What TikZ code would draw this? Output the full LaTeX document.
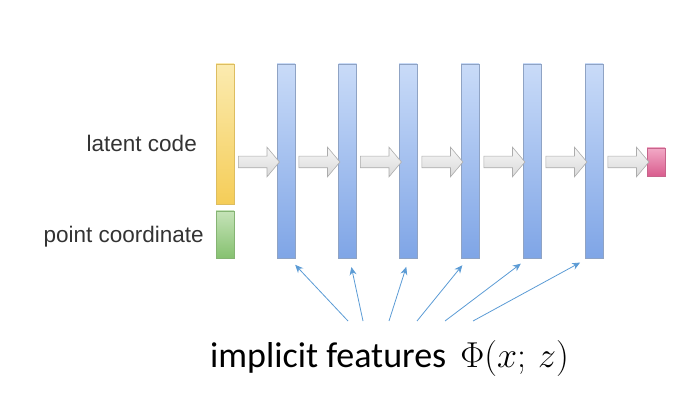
\RequirePackage{fix-cm}
\documentclass[tikz,border=0pt]{standalone}
\usepackage{amsmath}
\usepackage{fontspec}
\setmainfont{Carlito}
\newfontfamily\labelfont{Liberation Sans}
\usetikzlibrary{arrows.meta,positioning,shapes.arrows}

\definecolor{barTop}{HTML}{C9DBF8}
\definecolor{barBot}{HTML}{7FA5E6}
\definecolor{barLine}{HTML}{8FA3C4}
\definecolor{codeTop}{HTML}{FBEBB0}
\definecolor{codeBot}{HTML}{F5CD58}
\definecolor{ptTop}{HTML}{C5E3B8}
\definecolor{ptBot}{HTML}{86C170}
\definecolor{outTop}{HTML}{F2A9C6}
\definecolor{outBot}{HTML}{D95D8E}
\definecolor{featBlue}{HTML}{5B9BD5}

\begin{document}
\begin{tikzpicture}[
    x=1pt, y=-1pt,
    bar/.style={draw=barLine, line width=0.5pt, inner sep=0pt, minimum width=18pt, top color=barTop, bottom color=barBot},
    layer/.style={bar, minimum height=194pt},
    flow/.style={single arrow, draw=gray!65, line width=0.6pt, top color=gray!6, bottom color=gray!30,
                 inner xsep=0pt, inner ysep=5.5pt, minimum height=41pt, single arrow head extend=9pt,
                 single arrow tip angle=100},
    inlabel/.style={font=\labelfont\fontsize{22.5}{26}\selectfont, text=black!80, inner sep=0pt},
    feat/.style={-{Stealth[length=8pt,width=7pt]}, draw=featBlue, line width=0.8pt, shorten >=9pt}
  ]
    \useasboundingbox (0,0) rectangle (698,403);
    % inputs
    \node[bar, minimum height=140pt, top color=codeTop, bottom color=codeBot, draw=codeBot!80!gray] (code) at (225,134) {};
    \node[bar, minimum height=47pt, top color=ptTop, bottom color=ptBot, draw=ptBot!80!gray] (point) at (225,234.5) {};
    \node[inlabel, anchor=east] (codeLabel) at (197,143) {latent code};
    \node[inlabel, anchor=east] (pointLabel) at (204,237) {point coordinate};
    % hidden layers
    \node[layer] (h1) at (286,161) {};
    \node[layer] (h2) at (347.5,161) {};
    \node[layer] (h3) at (408,161) {};
    \node[layer] (h4) at (470,161) {};
    \node[layer] (h5) at (532,161) {};
    \node[layer] (h6) at (594,161) {};
    \node[bar, minimum height=28pt, top color=outTop, bottom color=outBot, draw=outBot!80!gray] (out) at (656,162) {};
    % block arrows
    \node[flow] (f0) at (256.5,162) {};
    \node[flow] (f1) at (317,162) {};
    \node[flow] (f2) at (378.5,162) {};
    \node[flow] (f3) at (440,162) {};
    \node[flow] (f4) at (502,162) {};
    \node[flow] (f5) at (564,162) {};
    \node[flow] (f6) at (626,162) {};
    % features
    \node[anchor=base west, inner sep=0pt, font=\fontsize{36}{42}\selectfont] (featLabel) at (210,367)
      {implicit features\hspace{6pt} $\Phi(x;\,z)$};
    \coordinate (s1) at (348,321);
    \coordinate (s2) at (363,321);
    \coordinate (s3) at (389,321);
    \coordinate (s4) at (417,321);
    \coordinate (s5) at (445,321);
    \coordinate (s6) at (473,321);
    \draw[feat] (s1) -- ([xshift=3pt]h1.south);
    \draw[feat] (s2) -- ([xshift=2pt]h2.south);
    \draw[feat] (s3) -- ([xshift=1pt]h3.south);
    \draw[feat] (s4) -- ([xshift=-2pt]h4.south);
    \draw[feat] (s5) -- ([xshift=-4pt]h5.south);
    \draw[feat] (s6) -- ([xshift=-6pt]h6.south);
\end{tikzpicture}
\end{document}
